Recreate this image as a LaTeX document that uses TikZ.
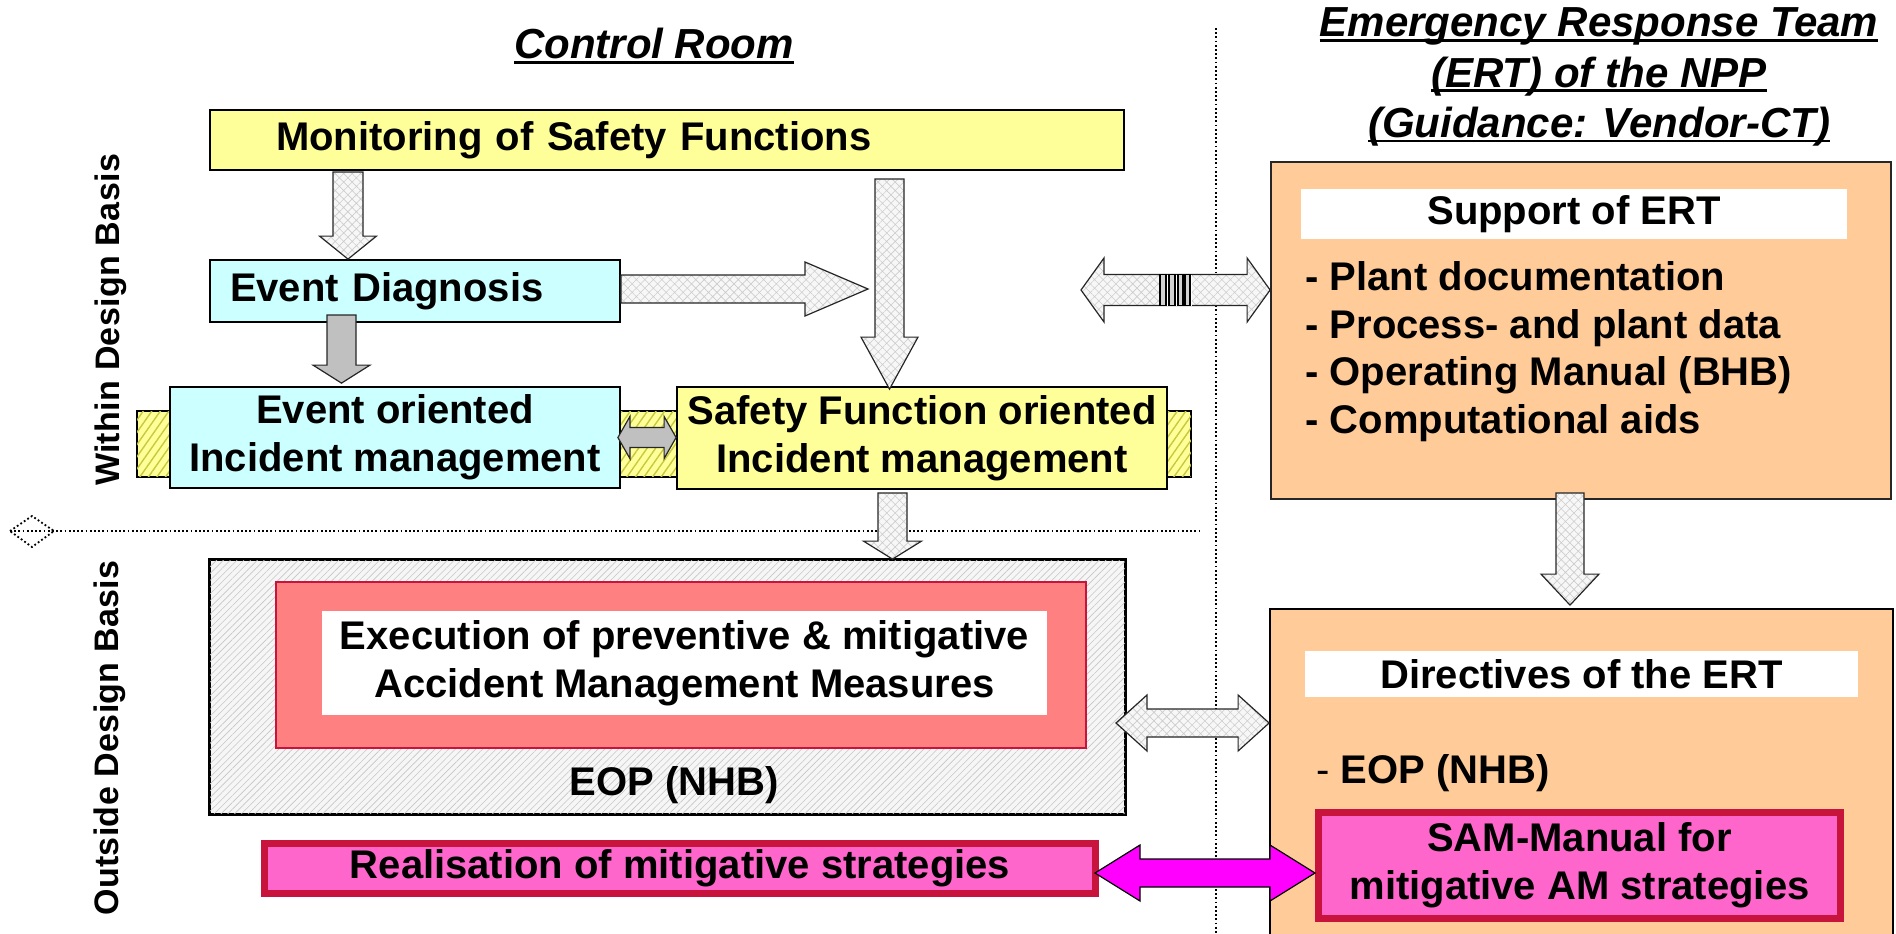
\documentclass[tikz,border=0pt]{standalone}
\usepackage{fontspec}
\setmainfont{Liberation Sans}
\usetikzlibrary{calc,patterns.meta}

\definecolor{lyellow}{HTML}{FFFF99}
\definecolor{lcyan}{HTML}{CCFFFF}
\definecolor{lorange}{HTML}{FFCC99}
\definecolor{salmonred}{HTML}{FF8080}
\definecolor{hotpink}{HTML}{FF66CC}
\definecolor{purepink}{HTML}{FF00FF}
\definecolor{crimsonline}{HTML}{C8143C}
\definecolor{barline}{HTML}{C8C840}
\definecolor{arrowgray}{HTML}{C0C0C0}

% underlined heading text, rule just below the baseline
\newcommand\ulbox[1]{\setbox0=\hbox{#1}\rlap{\rule[-2.5pt]{\wd0}{1.3pt}}\box0}
\newcommand\bodyfont{\fontsize{20}{24}\selectfont\bfseries}
\newcommand\headfont{\fontsize{21}{25.2}\selectfont\bfseries\itshape}
\newcommand\sidefont{\fontsize{17}{19}\selectfont\bfseries\addfontfeature{LetterSpace=1}}

% block arrows: style, start, tip, shaft half width, head half width, head length
\newcommand\downblock[6]{%
  \path[#1] ($(#2)+(-#4,0)$) -- ($(#3)+(-#4,-#6)$) -- ($(#3)+(-#5,-#6)$) -- (#3)
    -- ($(#3)+(#5,-#6)$) -- ($(#3)+(#4,-#6)$) -- ($(#2)+(#4,0)$) -- cycle;}
\newcommand\rightblock[6]{%
  \path[#1] ($(#2)+(0,-#4)$) -- ($(#3)+(-#6,-#4)$) -- ($(#3)+(-#6,-#5)$) -- (#3)
    -- ($(#3)+(-#6,#5)$) -- ($(#3)+(-#6,#4)$) -- ($(#2)+(0,#4)$) -- cycle;}
\newcommand\bothblock[6]{%
  \path[#1] (#2) -- ($(#2)+(#6,-#5)$) -- ($(#2)+(#6,-#4)$) -- ($(#3)+(-#6,-#4)$)
    -- ($(#3)+(-#6,-#5)$) -- (#3) -- ($(#3)+(-#6,#5)$) -- ($(#3)+(-#6,#4)$)
    -- ($(#2)+(#6,#4)$) -- ($(#2)+(#6,#5)$) -- cycle;}

\tikzset{
  box/.style={draw=black, line width=0.9pt, inner sep=0pt, font=\bodyfont},
  txt/.style={inner sep=0pt, font=\bodyfont},
  dotline/.style={draw=black, line width=0.9pt, dash pattern=on 0.9pt off 1.2pt},
  hatcharrow/.style={fill=gray!6,
    postaction={pattern={Hatch[angle=45,distance=3pt,line width=0.3pt]}, pattern color=gray!40},
    postaction={draw=black!85, line width=0.6pt}},
  grayarrow/.style={fill=arrowgray, draw=black!85, line width=0.6pt},
  pinkarrow/.style={fill=purepink, draw=black, line width=0.6pt},
  stripe/.style={fill=gray!35, draw=black, line width=0.7pt},
}

\begin{document}
\begin{tikzpicture}[x=0.5pt,y=-0.5pt]
\useasboundingbox (0,0) rectangle (1896,933);
\clip (0,0) rectangle (1896,933);

% ---------- headings ----------
\node[inner sep=0pt, font=\headfont] (crtitle) at (654,46) {\ulbox{Control Room}};
\node[inner sep=0pt, font=\headfont, align=center] (erttitle) at (1599,77)
  {\ulbox{Emergency Response Team}\\ \ulbox{(ERT) of the NPP}\\ \ulbox{(Guidance: Vendor-CT)}};

\node[inner sep=0pt, font=\sidefont, rotate=90] (within) at (111,320) {Within Design Basis};
\node[inner sep=0pt, font=\sidefont, rotate=90] (outside) at (110,738) {Outside Design Basis};

% ---------- control room, within design basis ----------
\node[box, fill=lyellow, minimum width=457pt, minimum height=30pt, text width=391pt,
      inner xsep=33pt, align=left] (mon) at (667,140) {Monitoring of Safety Functions};
\node[box, fill=lcyan, minimum width=205pt, minimum height=31pt, text width=185pt,
      inner xsep=10pt, align=left] (ed) at (415,291) {Event Diagnosis};

\node[draw=black, line width=0.6pt, fill=lyellow, minimum width=527pt, minimum height=33pt,
      postaction={pattern={Lines[angle=55,distance=3.5pt,line width=0.7pt]}, pattern color=barline}]
      (bar) at (664,444) {};
\draw[line width=0.6pt] (bar.north west) rectangle (bar.south east);

\node[box, fill=lcyan, minimum width=225pt, minimum height=50.5pt, align=center]
  (eo) at (395,437.5) {Event oriented\\Incident management};
\node[box, fill=lyellow, minimum width=245pt, minimum height=51pt, align=center]
  (sf) at (922,438) {Safety Function oriented\\Incident management};

% ---------- control room, outside design basis ----------
\node[draw=black, line width=0.9pt, fill=gray!7, minimum width=457.5pt, minimum height=127pt,
      postaction={pattern={Lines[angle=45,distance=2.4pt,line width=0.3pt]}, pattern color=gray!45}]
      (eop) at (667.5,687) {};
\draw[line width=0.9pt] (eop.north west) rectangle (eop.south east);
\node[draw=crimsonline, line width=0.6pt, fill=salmonred, minimum width=405pt, minimum height=83pt]
  (red) at (681,665) {};
\node[fill=white, inner sep=0pt, minimum width=362.5pt, minimum height=52pt, align=center, font=\bodyfont]
  (exec) at (684.5,663) {Execution of preventive \& mitigative\\Accident Management Measures};
\node[txt] (eoplbl) at (674,785) {EOP (NHB)};

\node[draw=crimsonline, line width=3.5pt, fill=hotpink, inner sep=0pt, minimum width=415.5pt,
      minimum height=25pt, font=\bodyfont] (real) at (680,868.5) {Realisation of mitigative strategies};

% ---------- emergency response team ----------
\node[draw=black!85, line width=0.9pt, fill=lorange, minimum width=310pt, minimum height=168.5pt]
  (sup) at (1581,330.5) {};
\node[fill=white, inner sep=0pt, minimum width=273pt, minimum height=25pt, font=\bodyfont]
  (suphdr) at (1574,214) {Support of ERT};
\node[txt, anchor=west, align=left, font=\fontsize{20}{23.85}\selectfont\bfseries] (suplist) at (1305,351.5)
  {- Plant documentation\\- Process- and plant data\\- Operating Manual (BHB)\\- Computational aids};

\node[draw=black, line width=0.9pt, fill=lorange, minimum width=311.5pt, minimum height=185.5pt]
  (dir) at (1581.5,794.5) {};
\node[fill=white, inner sep=0pt, minimum width=276.5pt, minimum height=23pt, font=\bodyfont]
  (dirhdr) at (1581.5,674) {Directives of the ERT};
\node[txt, anchor=west] (direop) at (1316,773) {{\mdseries -} EOP (NHB)};
\node[draw=crimsonline, line width=3.5pt, fill=hotpink, inner sep=0pt, minimum width=261pt,
      minimum height=53pt, align=center, font=\bodyfont] (sam) at (1579.5,865.5)
  {SAM-Manual for\\mitigative AM strategies};

% ---------- separators ----------
\coordinate (vtop) at (1216,28);
\coordinate (vbot) at (1216,933);
\draw[dotline] (vtop) -- (vbot);
\coordinate (hleft) at (10,531);
\coordinate (hright) at (1202,531);
\coordinate (dtop) at (32,516);
\coordinate (dright) at (54,531);
\coordinate (dbottom) at (32,547);
\draw[dotline] (hleft) -- (hright);
\draw[dotline] (hleft) -- (dtop) -- (dright) -- (dbottom) -- cycle;

% ---------- arrows ----------
\coordinate (a1s) at (348,172);
\coordinate (a1e) at (a1s |- ed.north);
\downblock{hatcharrow}{a1s}{a1e}{15}{28.5}{23}

\coordinate (a2s) at ($(ed.east)+(0,-2)$);
\coordinate (a2e) at (868,289);
\rightblock{hatcharrow}{a2s}{a2e}{14}{27}{63}

\coordinate (a3s) at (889.5,179);
\coordinate (a3e) at ($(a3s |- sf.north)+(0,3)$);
\downblock{hatcharrow}{a3s}{a3e}{14.5}{28.5}{52}

\coordinate (a4s) at (341.5,315);
\coordinate (a4e) at ($(a4s |- eo.north)+(0,-3)$);
\downblock{grayarrow}{a4s}{a4e}{14.5}{28.5}{18}

\coordinate (a5l) at ($(eo.east)+(-3,0)$);
\coordinate (a5r) at (sf.west |- a5l);
\bothblock{grayarrow}{a5l}{a5r}{10}{21}{12}

\coordinate (a6s) at (892.5,493);
\coordinate (a6e) at (a6s |- eop.north);
\downblock{hatcharrow}{a6s}{a6e}{14.5}{29}{18}

\coordinate (a7l) at (1116,723);
\coordinate (a7r) at (dir.west |- a7l);
\bothblock{hatcharrow}{a7l}{a7r}{14}{28}{31}

\coordinate (a8l) at (1095,873);
\coordinate (a8r) at (sam.west |- a8l);
\bothblock{pinkarrow}{a8l}{a8r}{14}{28}{45}

\coordinate (a9s) at (1570,493);
\coordinate (a9e) at ($(a9s |- dir.north)+(0,-3)$);
\downblock{hatcharrow}{a9s}{a9e}{14}{29}{31}

\coordinate (a10l) at (1081,290);
\coordinate (a10r) at (sup.west |- a10l);
\bothblock{hatcharrow}{a10l}{a10r}{15.5}{32}{23}
% striped coupling in the middle of the link arrow
\fill[white] (1160,274.5) rectangle (1192,305.5);
\draw[stripe] (1160,274.5) rectangle (1166,305.5);
\draw[stripe] (1169,274.5) rectangle (1175,305.5);
\draw[stripe] (1178,274.5) rectangle (1183,305.5);
\draw[stripe] (1185,274.5) rectangle (1190,305.5);
\end{tikzpicture}
\end{document}
